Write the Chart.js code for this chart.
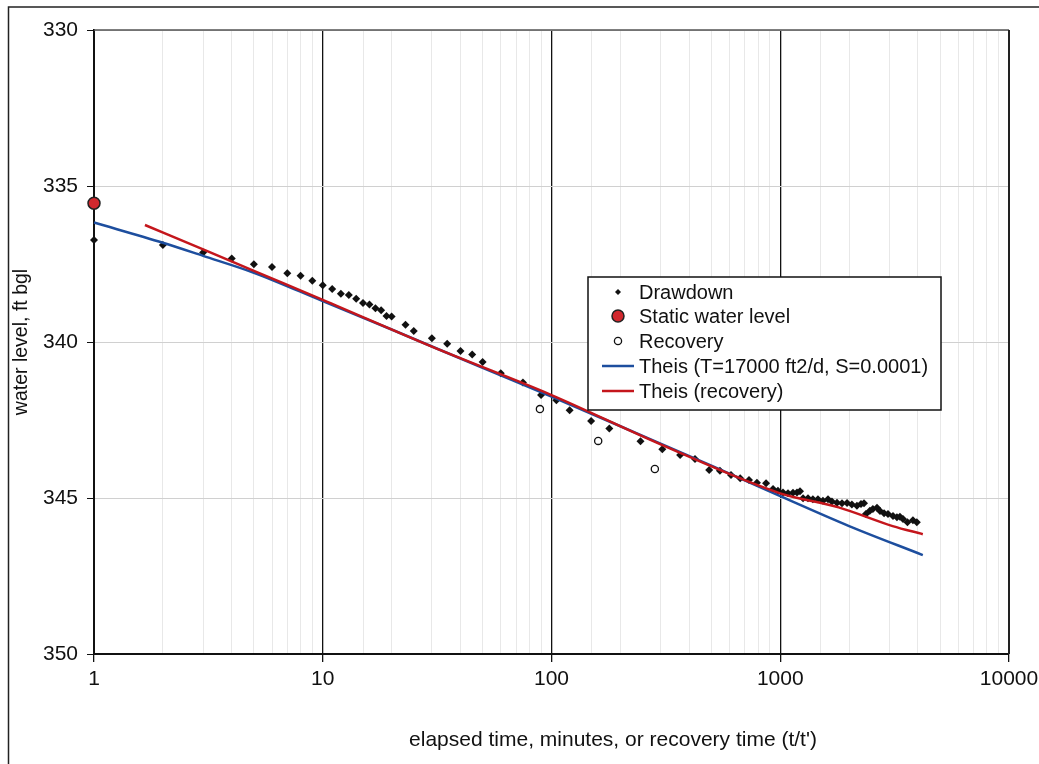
<!DOCTYPE html>
<html>
<head>
<meta charset="utf-8">
<script src="https://cdn.jsdelivr.net/npm/chart.js@4"></script>
<style>
  html, body { margin: 0; padding: 0; background: #fff; }
  #wrap { width: 1039px; height: 764px; position: relative; }
</style>
</head>
<body>
<div id="wrap"><canvas id="pumpChart" width="1039" height="764"></canvas></div>
<script>
// elapsed time (min) and water level (ft bgl)
const drawdownTime = [1, 2, 3, 4, 5, 6, 7, 8, 9, 10, 11, 12, 13, 14, 15, 16, 17, 18, 19, 20,
  23, 25, 30, 35, 40, 45, 50, 60, 75, 90, 105, 120, 149, 179, 245, 305, 365, 424, 489, 545,
  609, 668, 730, 791, 867, 930, 977, 1028, 1081, 1137, 1184, 1220, 1258, 1322, 1389, 1461,
  1537, 1617, 1682, 1770, 1862, 1959, 2057, 2164, 2254, 2323, 2367, 2465, 2541, 2648, 2729,
  2843, 2958, 3111, 3236, 3336, 3440, 3597, 3802, 3953];
const drawdownLevel = [336.73, 336.89, 337.13, 337.32, 337.51, 337.6, 337.8, 337.88, 338.04, 338.18,
  338.3, 338.45, 338.49, 338.61, 338.75, 338.8, 338.92, 338.98, 339.17, 339.18,
  339.45, 339.65, 339.88, 340.06, 340.29, 340.4, 340.64, 341.0, 341.3, 341.7, 341.87, 342.19,
  342.53, 342.77, 343.18, 343.44, 343.62, 343.75, 344.1, 344.13, 344.26, 344.37, 344.42, 344.51,
  344.53, 344.71, 344.77, 344.82, 344.85, 344.83, 344.82, 344.78, 345.01, 345.01, 345.04, 345.04,
  345.09, 345.04, 345.11, 345.15, 345.17, 345.16, 345.21, 345.25, 345.19, 345.17, 345.51, 345.41,
  345.35, 345.31, 345.42, 345.49, 345.51, 345.58, 345.62, 345.6, 345.67, 345.78, 345.71, 345.78];

const staticTime = [1];
const staticLevel = [335.55];

const recoveryTime = [89, 160, 283];
const recoveryLevel = [342.15, 343.17, 344.07];

const theisTime = [1, 2, 3, 5, 10, 20, 50, 100, 200, 500, 1000, 2000, 4200];
const theisLevel = [336.17, 336.82, 337.24, 337.78, 338.69, 339.6, 340.83, 341.75, 342.7, 343.96, 344.94, 345.9, 346.83];

const recTheisTime = [1.67, 3, 5, 10, 30, 100, 300, 1000, 1800, 3100, 4200];
const recTheisLevel = [336.25, 337.03, 337.72, 338.65, 340.15, 341.7, 343.28, 344.85, 345.3, 345.9, 346.16];

const xTickLabels = ['1', '10', '100', '1000', '10000'];
const yTicks = [330, 335, 340, 345, 350];

const legendNames = ['Drawdown', 'Static water level', 'Recovery',
  'Theis (T=17000 ft2/d, S=0.0001)', 'Theis (recovery)'];
const xTitle = "elapsed time, minutes, or recovery time (t/t')";

const FONT = 'Liberation Sans, Arial, sans-serif';
const BLUE = '#1d4e9e';
const RED = '#c4161c';

function pairs(xs, ys) {
  return xs.map((x, i) => ({ x: x, y: ys[i] }));
}

function isDecade(v) {
  const l = Math.log10(v);
  return Math.abs(l - Math.round(l)) < 1e-9;
}

// outer frame + plot border + x title (sits right of centre in the original)
const framePlugin = {
  id: 'frame',
  beforeDraw(chart) {
    const ctx = chart.ctx;
    ctx.save();
    ctx.strokeStyle = '#222';
    ctx.lineWidth = 1.5;
    ctx.beginPath();
    ctx.moveTo(8.5, 764);
    ctx.lineTo(8.5, 7);
    ctx.lineTo(1039, 7);
    ctx.stroke();
    ctx.fillStyle = '#111';
    ctx.font = '21px ' + FONT;
    ctx.textAlign = 'center';
    ctx.textBaseline = 'middle';
    ctx.fillText(xTitle, 613, 740);
    ctx.restore();
  },
  beforeDatasetsDraw(chart) {
    const a = chart.chartArea;
    const ctx = chart.ctx;
    ctx.save();
    ctx.strokeStyle = '#555';
    ctx.lineWidth = 1.5;
    ctx.beginPath();
    ctx.moveTo(a.left, a.top);
    ctx.lineTo(a.right, a.top);
    ctx.stroke();
    ctx.strokeStyle = '#222';
    ctx.lineWidth = 2;
    ctx.beginPath();
    ctx.moveTo(a.right, a.top);
    ctx.lineTo(a.right, a.bottom);
    ctx.stroke();
    ctx.restore();
  }
};

// legend box placed inside the plot like the original
const boxLegend = {
  id: 'boxLegend',
  afterDraw(chart) {
    const ctx = chart.ctx;
    const bx = 588, by = 277, bw = 353, bh = 133;
    ctx.save();
    ctx.fillStyle = '#fff';
    ctx.fillRect(bx, by, bw, bh);
    ctx.strokeStyle = '#111';
    ctx.lineWidth = 1.5;
    ctx.strokeRect(bx, by, bw, bh);
    ctx.font = '20px ' + FONT;
    ctx.textBaseline = 'middle';
    ctx.fillStyle = '#111';
    const rows = [292, 316, 341, 366, 391];
    chart.data.datasets.forEach((ds, i) => {
      const y = rows[i];
      const mx = 618;
      if (ds.showLine) {
        ctx.strokeStyle = ds.borderColor;
        ctx.lineWidth = 2.5;
        ctx.beginPath();
        ctx.moveTo(602, y);
        ctx.lineTo(634, y);
        ctx.stroke();
      } else if (ds.pointStyle === 'rectRot') {
        ctx.fillStyle = '#111';
        ctx.beginPath();
        ctx.moveTo(mx, y - 3); ctx.lineTo(mx + 3, y); ctx.lineTo(mx, y + 3); ctx.lineTo(mx - 3, y);
        ctx.closePath();
        ctx.fill();
      } else {
        ctx.beginPath();
        ctx.arc(mx, y, ds.pointRadius, 0, Math.PI * 2);
        ctx.fillStyle = ds.pointBackgroundColor;
        ctx.fill();
        ctx.strokeStyle = ds.pointBorderColor;
        ctx.lineWidth = ds.pointBorderWidth;
        ctx.stroke();
      }
      ctx.fillStyle = '#111';
      ctx.fillText(legendNames[i], 639, y + 1);
    });
    ctx.restore();
  }
};

const ctx = document.getElementById('pumpChart').getContext('2d');
new Chart(ctx, {
  type: 'scatter',
  data: {
    datasets: [
      {
        label: legendNames[0],
        data: pairs(drawdownTime, drawdownLevel),
        pointStyle: 'rectRot',
        pointRadius: 4,
        pointBackgroundColor: '#111',
        pointBorderColor: '#111',
        pointBorderWidth: 0,
        showLine: false,
        clip: false,
        order: 3
      },
      {
        label: legendNames[1],
        data: pairs(staticTime, staticLevel),
        pointStyle: 'circle',
        pointRadius: 6,
        pointBackgroundColor: '#d1282e',
        pointBorderColor: '#222',
        pointBorderWidth: 1.5,
        showLine: false,
        clip: false,
        order: 0
      },
      {
        label: legendNames[2],
        data: pairs(recoveryTime, recoveryLevel),
        pointStyle: 'circle',
        pointRadius: 3.6,
        pointBackgroundColor: '#fff',
        pointBorderColor: '#111',
        pointBorderWidth: 1.3,
        showLine: false,
        clip: false,
        order: 4
      },
      {
        label: legendNames[3],
        data: pairs(theisTime, theisLevel),
        showLine: true,
        borderColor: BLUE,
        borderWidth: 2.5,
        pointRadius: 0,
        cubicInterpolationMode: 'monotone',
        clip: false,
        order: 2
      },
      {
        label: legendNames[4],
        data: pairs(recTheisTime, recTheisLevel),
        showLine: true,
        borderColor: RED,
        borderWidth: 2.5,
        pointRadius: 0,
        cubicInterpolationMode: 'monotone',
        clip: false,
        order: 1
      }
    ]
  },
  options: {
    responsive: false,
    animation: false,
    layout: { padding: { left: 6, top: 30, right: 30, bottom: 7 } },
    plugins: {
      legend: { display: false },
      tooltip: { enabled: false }
    },
    scales: {
      x: {
        type: 'logarithmic',
        min: 1,
        max: 10000,
        afterFit: s => { s.height = 103; s.paddingLeft = 0; s.paddingRight = 0; },
        border: { color: '#111', width: 2 },
        grid: {
          color: c => (c.tick && isDecade(c.tick.value)) ? '#111' : '#e8e8e8',
          lineWidth: c => (c.tick && isDecade(c.tick.value)) ? 1.3 : 1,
          tickColor: c => (c.tick && isDecade(c.tick.value)) ? '#111' : 'rgba(0,0,0,0)',
          tickLength: 8
        },
        ticks: {
          autoSkip: false,
          maxRotation: 0,
          padding: 5,
          color: '#111',
          font: { family: FONT, size: 21 },
          callback: v => isDecade(v) ? xTickLabels[Math.round(Math.log10(v))] : ''
        }
      },
      y: {
        reverse: true,
        min: 330,
        max: 350,
        afterFit: s => { s.width = 88; },
        afterBuildTicks: s => { s.ticks = yTicks.map(v => ({ value: v })); },
        border: { color: '#111', width: 2 },
        grid: {
          color: '#d0d0d0',
          tickColor: '#111',
          tickLength: 7
        },
        ticks: {
          padding: 9,
          color: '#111',
          font: { family: FONT, size: 21 }
        },
        title: {
          display: true,
          text: 'water level, ft bgl',
          color: '#111',
          font: { family: FONT, size: 19.5 },
          padding: { top: 4, bottom: 4 }
        }
      }
    }
  },
  plugins: [framePlugin, boxLegend]
});
</script>
</body>
</html>
